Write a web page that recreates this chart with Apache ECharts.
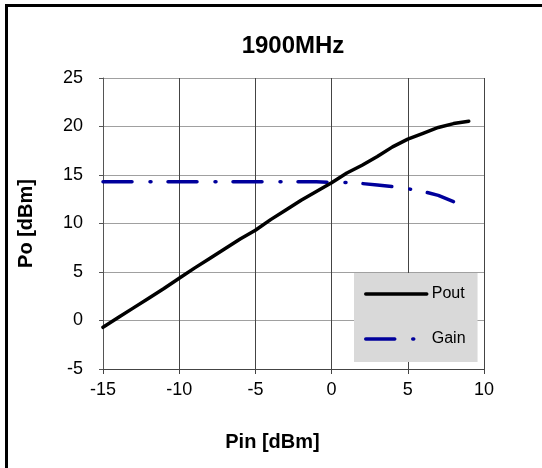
<!DOCTYPE html>
<html>
<head>
<meta charset="utf-8">
<script src="https://cdn.jsdelivr.net/npm/echarts@6/dist/echarts.min.js"></script>
<style>
  html, body { margin: 0; padding: 0; background: #fff; }
  #chart { width: 542px; height: 468px; }
</style>
</head>
<body>
<div id="chart"></div>
<script>
// ---- Data ----
const titleText = '1900MHz';
const xName = 'Pin [dBm]';
const yName = 'Po [dBm]';
const seriesNames = ['Pout', 'Gain'];

const pinPout = [-15, -14, -13, -12, -11, -10, -9, -8, -7, -6, -5, -4, -3, -2, -1, 0, 1, 2, 3, 4, 5, 6, 7, 8, 9];
const poutValues = [-0.7, 0.3, 1.3, 2.3, 3.3, 4.35, 5.4, 6.4, 7.4, 8.4, 9.3, 10.4, 11.4, 12.4, 13.3, 14.2, 15.2, 16.0, 16.9, 17.9, 18.7, 19.3, 19.9, 20.3, 20.55];

const pinGain = [-15, -14, -13, -12, -11, -10, -9, -8, -7, -6, -5, -4, -3, -2, -1, 0, 1, 2, 3, 4, 5, 6, 7, 8];
const gainValues = [14.3, 14.3, 14.3, 14.3, 14.3, 14.3, 14.3, 14.3, 14.3, 14.3, 14.3, 14.3, 14.3, 14.3, 14.3, 14.25, 14.22, 14.12, 13.97, 13.8, 13.58, 13.3, 12.9, 12.25];

const xTicks = { min: -15, max: 10, step: 5 };
const yTicks = { min: -5, max: 25, step: 5 };

// ---- Chart ----
const FONT = '"Liberation Sans", Arial, sans-serif';
const chart = echarts.init(document.getElementById('chart'), null, { renderer: 'canvas' });

const zip = (xs, ys) => xs.map((x, i) => [x, ys[i]]);

chart.setOption({
  backgroundColor: '#ffffff',
  animation: false,
  title: {
    text: titleText,
    left: 288,
    top: 29,
    textAlign: 'center',
    textStyle: { fontFamily: FONT, fontSize: 24, fontWeight: 'bold', color: '#000' }
  },
  grid: { left: 103, right: 58, top: 78, height: 291, containLabel: false },
  xAxis: {
    type: 'value',
    min: xTicks.min, max: xTicks.max, interval: xTicks.step,
    name: xName,
    nameLocation: 'middle',
    nameGap: 63,
    nameTextStyle: { fontFamily: FONT, fontSize: 20, fontWeight: 'bold', color: '#000', padding: [0, 42, 0, 0] },
    axisLine: { show: true, onZero: false, lineStyle: { color: '#444', width: 1 } },
    axisTick: { show: true, length: 5, lineStyle: { color: '#444' } },
    axisLabel: { fontFamily: FONT, fontSize: 18, color: '#000', margin: 12 },
    splitLine: { show: true, lineStyle: { color: '#444', width: 1 } }
  },
  yAxis: {
    type: 'value',
    min: yTicks.min, max: yTicks.max, interval: yTicks.step,
    name: yName,
    nameLocation: 'middle',
    nameGap: 67,
    nameTextStyle: { fontFamily: FONT, fontSize: 20, fontWeight: 'bold', color: '#000' },
    axisLine: { show: true, onZero: false, lineStyle: { color: '#555', width: 1 } },
    axisTick: { show: true, length: 4, lineStyle: { color: '#555' } },
    axisLabel: { fontFamily: FONT, fontSize: 18, color: '#000', margin: 20 },
    splitLine: { show: true, lineStyle: { color: '#a0a0a0', width: 1 } }
  },
  legend: {
    data: seriesNames,
    orient: 'vertical',
    left: 354,
    top: 273,
    backgroundColor: '#d9d9d9',
    padding: [13, 12, 15, 10],
    itemWidth: 61,
    itemHeight: 14,
    itemGap: 29,
    itemStyle: { opacity: 0 },
    lineStyle: { width: 3.5, cap: 'round' },
    textStyle: { fontFamily: FONT, fontSize: 16, color: '#000' }
  },
  graphic: [
    { type: 'rect', left: 5, top: 4, shape: { width: 537, height: 3 }, style: { fill: '#000' }, silent: true },
    { type: 'rect', left: 5, top: 4, shape: { width: 3, height: 464 }, style: { fill: '#000' }, silent: true }
  ],
  series: [
    {
      name: seriesNames[0],
      type: 'line',
      symbol: 'none',
      data: zip(pinPout, poutValues),
      lineStyle: { color: '#000000', width: 3.5, cap: 'round', join: 'round' },
      itemStyle: { color: '#000000' },
      z: 3
    },
    {
      name: seriesNames[1],
      type: 'line',
      symbol: 'none',
      data: zip(pinGain, gainValues),
      lineStyle: { color: '#00009c', width: 3.5, type: [29, 18, 1, 17], cap: 'round', join: 'round' },
      itemStyle: { color: '#00009c' },
      z: 2
    }
  ]
});
</script>
</body>
</html>
